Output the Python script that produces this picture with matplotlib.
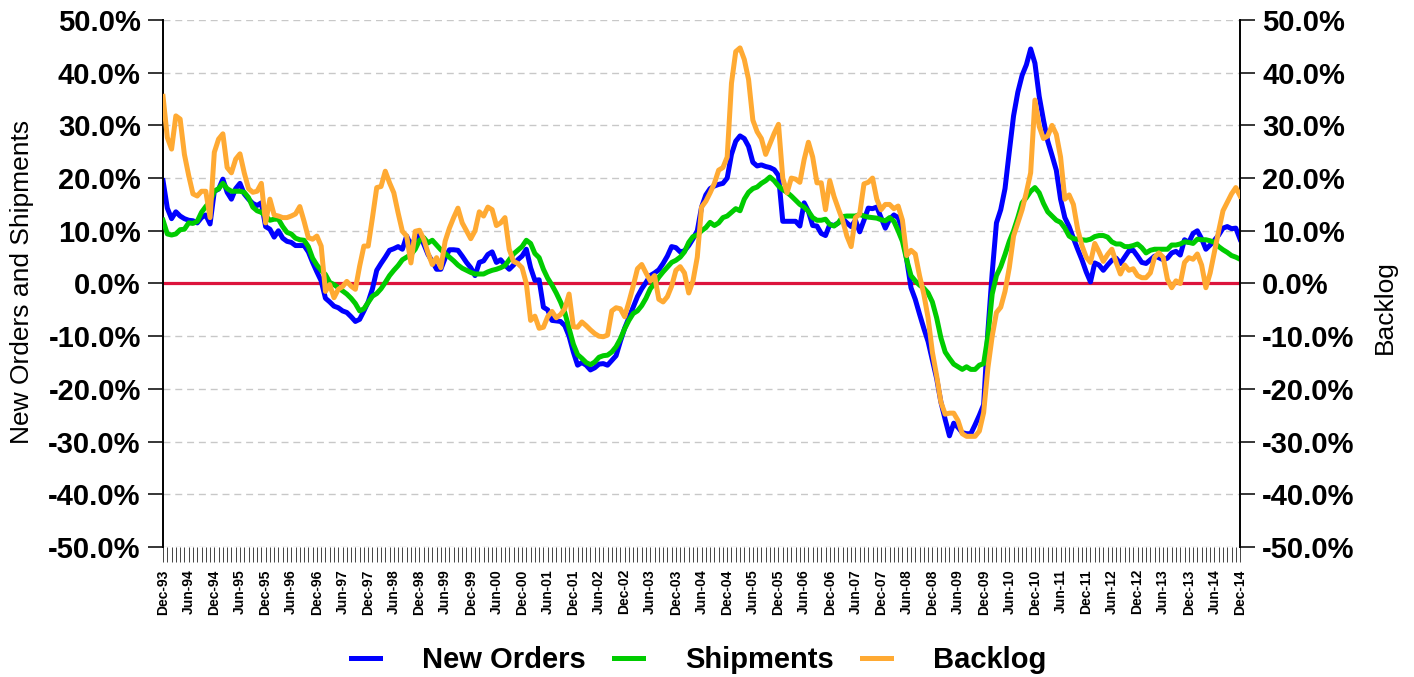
import numpy as np
import pandas as pd
import matplotlib
matplotlib.use("Agg")
import matplotlib.pyplot as plt

plt.rcParams['font.family'] = ['Liberation Sans', 'DejaVu Sans']

months = pd.date_range('1993-12-01', '2014-12-01', freq='MS')
month_labels = [d.strftime('%b-%y') for d in months]

# monthly values, Dec-93 .. Dec-14 (percent)
new_orders = [
    19.5, 14.3, 12.3, 13.6, 12.8, 12.3, 12.0, 11.9, 11.5, 12.5, 13.0, 11.3,
    17.5, 17.9, 19.8, 17.3, 16.0, 18.0, 19.0, 17.0, 16.0, 15.2, 14.8, 15.3,
    10.8, 10.3, 8.8, 10.0, 8.6, 8.0, 7.8, 7.2, 7.2, 7.2, 6.0, 4.0,
    2.2, 0.5, -2.8, -3.5, -4.3, -4.6, -5.2, -5.5, -6.3, -7.2, -6.8, -5.2,
    -3.5, -1.0, 2.5, 3.8, 5.0, 6.3, 6.6, 7.0, 6.5, 9.0, 7.3, 8.5,
    9.2, 7.5, 5.5, 4.2, 2.7, 2.7, 4.8, 6.4, 6.4, 6.3, 5.2, 4.0,
    3.0, 1.5, 4.0, 4.3, 5.5, 6.0, 4.0, 4.5, 3.5, 2.7, 3.5, 4.5,
    5.2, 6.5, 3.0, 0.6, 0.7, -4.5, -5.0, -7.0, -7.1, -7.2, -8.0, -10.0,
    -13.0, -15.5, -15.0, -15.5, -16.4, -16.0, -15.3, -15.2, -15.5, -14.6, -13.7, -11.0,
    -8.5, -6.5, -4.5, -2.5, -1.0, 0.2, 1.5, 2.0, 2.6, 3.8, 5.2, 7.0,
    6.8, 6.0, 6.2, 7.2, 8.5, 10.0, 14.5, 16.8, 18.0, 18.5, 18.8, 19.0,
    20.0, 24.5, 27.0, 28.0, 27.5, 26.0, 23.0, 22.3, 22.5, 22.2, 22.0, 21.6,
    20.5, 11.8, 11.8, 11.8, 11.8, 10.9, 15.3, 13.7, 11.0, 10.9, 9.5, 9.1,
    11.2, 11.0, 11.5, 12.3, 11.5, 10.8, 12.0, 9.8, 12.0, 14.3, 14.2, 14.5,
    12.5, 10.5, 12.2, 13.0, 12.5, 10.0, 4.5, -0.8, -3.0, -5.8, -8.5, -11.0,
    -14.5, -18.0, -22.5, -25.8, -28.9, -26.5, -27.3, -28.3, -28.5, -28.5, -26.8, -25.0,
    -23.0, -9.0, 2.0, 11.5, 14.0, 18.0, 25.0, 31.8, 36.3, 39.5, 41.5, 44.5,
    41.8, 35.5, 31.0, 27.0, 24.3, 21.5, 16.0, 12.5, 10.8, 8.6, 6.5, 4.5,
    2.2, 0.3, 3.9, 3.5, 2.5, 3.5, 4.4, 4.8, 3.8, 5.0, 6.2, 6.3,
    5.2, 4.0, 3.8, 4.5, 5.2, 4.9, 4.5, 4.8, 5.8, 6.1, 5.4, 8.3,
    7.8, 9.5, 10.0, 8.5, 6.5, 7.3, 8.2, 9.2, 10.5, 10.8, 10.4, 10.5, 8.4,
]

shipments = [
    12.0, 9.4, 9.2, 9.4, 10.2, 10.3, 11.5, 11.4, 11.8, 13.5, 14.6, 15.5,
    17.5, 18.0, 19.0, 18.0, 17.5, 17.5, 17.5, 17.3, 16.3, 14.5, 13.8, 13.5,
    12.8, 12.0, 12.2, 12.2, 10.8, 9.7, 9.4, 8.6, 8.3, 8.2, 7.0, 4.8,
    3.5, 2.5, 1.7, 0.2, -0.2, -0.8, -1.4, -2.0, -2.8, -3.8, -5.2, -4.8,
    -3.6, -2.4, -1.9, -1.0, 0.2, 1.5, 2.5, 3.4, 4.5, 5.0, 5.5, 6.5,
    8.2, 8.7, 7.7, 8.2, 7.3, 6.4, 5.7, 5.0, 4.3, 3.5, 2.9, 2.5,
    2.1, 1.8, 1.8, 1.8, 2.2, 2.5, 2.7, 3.0, 3.4, 4.5, 5.6, 6.3,
    7.0, 8.2, 7.6, 5.7, 4.9, 2.7, 1.0, -0.3, -1.8, -3.5, -5.5, -8.5,
    -11.5, -13.5, -14.2, -15.0, -15.4, -14.9, -14.0, -13.7, -13.6, -13.0, -12.0, -10.5,
    -8.6, -7.0, -5.7, -5.2, -4.2, -2.8, -1.0, 0.0, 1.2, 2.2, 3.1, 4.0,
    4.4, 5.0, 6.0, 7.8, 8.9, 9.2, 10.0, 10.6, 11.6, 11.0, 11.5, 12.5,
    12.8, 13.5, 14.2, 13.8, 16.0, 17.3, 18.0, 18.3, 19.0, 19.5, 20.2, 19.5,
    18.5, 17.8, 17.3, 16.6, 15.8, 15.0, 14.5, 13.7, 12.5, 12.0, 12.0, 12.2,
    11.2, 10.9, 11.5, 12.7, 12.8, 12.8, 12.8, 13.1, 12.8, 12.6, 12.5, 12.4,
    12.1, 11.9, 12.5, 11.8, 10.0, 8.0, 4.5, 1.5, 0.5, -0.3, -0.9, -1.8,
    -3.5, -6.5, -10.3, -13.0, -14.2, -15.3, -15.8, -16.3, -15.8, -16.3, -16.3, -15.5,
    -15.2, -10.0, -2.0, 1.5, 3.2, 5.5, 8.0, 10.0, 12.5, 15.3, 16.3, 17.5,
    18.2, 17.2, 15.2, 13.6, 12.8, 12.0, 11.6, 10.5, 9.0, 8.5, 8.4, 8.3,
    8.2, 8.4, 8.9, 9.1, 9.1, 8.8, 7.9, 7.5, 7.5, 7.0, 7.0, 7.2,
    7.5, 6.8, 5.8, 6.3, 6.5, 6.5, 6.5, 6.5, 7.3, 7.3, 7.5, 7.9,
    7.8, 7.6, 8.4, 8.3, 8.3, 8.1, 7.8, 7.0, 6.4, 5.9, 5.3, 5.0, 4.6,
]

backlog = [
    35.5, 27.7, 25.5, 31.8, 31.2, 24.5, 20.5, 17.0, 16.6, 17.5, 17.5, 12.5,
    24.9, 27.4, 28.4, 22.0, 21.0, 23.6, 24.6, 21.0, 18.0, 17.3, 17.5, 19.0,
    11.5, 16.0, 13.0, 12.8, 12.5, 12.5, 12.8, 13.2, 14.6, 11.8, 8.7, 8.4,
    9.0, 7.1, -1.5, -0.2, -2.7, -1.1, -0.6, 0.4, -0.5, -1.1, 3.3, 7.1,
    7.1, 12.5, 18.2, 18.4, 21.3, 19.1, 17.2, 13.4, 9.9, 9.0, 3.9, 9.9,
    10.1, 8.4, 5.8, 3.6, 4.9, 3.0, 8.0, 10.5, 12.5, 14.3, 11.5, 10.0,
    8.5, 10.0, 13.6, 12.8, 14.5, 14.0, 11.0, 11.5, 12.5, 6.5, 4.2, 3.8,
    3.0, 0.0, -7.0, -6.2, -8.5, -8.3, -6.3, -5.3, -6.5, -5.9, -4.8, -2.0,
    -8.2, -8.3, -7.3, -8.0, -8.8, -9.5, -10.0, -10.1, -9.8, -5.2, -4.6, -4.8,
    -6.3, -3.5, -0.5, 2.8, 3.6, 2.0, 0.5, 1.5, -3.0, -3.5, -2.5, -0.5,
    2.5, 3.2, 2.0, -1.8, 0.5, 5.0, 14.5, 15.6, 17.2, 19.0, 21.5, 22.0,
    24.0, 38.0, 44.0, 44.7, 42.5, 38.7, 31.0, 28.8, 27.5, 24.5, 26.5, 28.5,
    30.2, 20.0, 17.2, 20.0, 19.8, 19.2, 23.5, 26.8, 24.0, 19.1, 19.1, 14.0,
    19.5, 16.5, 14.2, 12.0, 9.0, 7.0, 12.5, 13.2, 18.9, 19.2, 20.0, 16.0,
    14.0, 15.0, 15.0, 14.2, 14.7, 12.0, 5.3, 6.3, 5.6, 1.5, -2.0, -6.5,
    -13.0, -17.5, -22.5, -24.8, -24.6, -24.6, -26.0, -28.5, -29.0, -29.0, -29.0, -28.0,
    -24.5, -16.0, -10.0, -5.5, -4.5, -1.5, 3.0, 9.0, 11.5, 14.0, 17.3, 21.0,
    34.8, 29.8, 27.5, 28.0, 30.0, 28.3, 24.0, 16.0, 16.8, 15.0, 10.3, 7.2,
    5.0, 4.0, 7.6, 6.0, 4.2, 5.5, 6.5, 4.0, 1.8, 3.5, 2.5, 2.8,
    1.5, 1.1, 1.1, 2.0, 5.0, 5.8, 5.0, 0.8, -0.8, 0.5, 0.0, 4.0,
    4.9, 4.6, 5.6, 3.5, -0.8, 2.0, 6.0, 10.0, 13.8, 15.4, 17.0, 18.2, 16.6,
]

y_ticks = list(range(-50, 51, 10))
y_tick_labels = [f'{v:.1f}%' for v in y_ticks]

x = np.arange(len(months))

fig = plt.figure(figsize=(14.14, 6.77), dpi=100)
ax = fig.add_axes([0.1153, 0.192, 0.7617, 0.7785])
ax2 = ax.twinx()

ax.set_axisbelow(True)
ax.yaxis.grid(True, color='#C8C8C8', linestyle=(0, (5, 3.5)), linewidth=1.0)
ax.axhline(0, color='#DC143C', linewidth=2.3, zorder=1.5)

l1, = ax.plot(x, new_orders, color='#0000FF', linewidth=3.6, label='New Orders', zorder=2)
l2, = ax.plot(x, shipments, color='#00CC00', linewidth=3.6, label='Shipments', zorder=3)
l3, = ax2.plot(x, backlog, color='#FFAA33', linewidth=3.6, label='Backlog', zorder=3)

for a in (ax, ax2):
    a.set_xlim(0, len(x) - 1)
    a.set_ylim(-50, 50)
    a.set_yticks(y_ticks)
    a.set_yticklabels(y_tick_labels, fontsize=21, fontweight='bold')
    a.tick_params(axis='y', direction='out', length=11, width=1.1, pad=5)
    a.spines['top'].set_visible(False)
    a.spines['bottom'].set_visible(False)

ax.spines['right'].set_visible(False)
ax2.spines['left'].set_visible(False)
ax.spines['left'].set_linewidth(1.4)
ax2.spines['right'].set_linewidth(1.4)

ax.set_xticks(x[::6])
ax.set_xticklabels(month_labels[::6], rotation=90, fontsize=10, fontweight='bold')
ax.set_xticks(x, minor=True)
ax.tick_params(axis='x', which='both', direction='out', length=11, width=0.7,
               color='#444444', pad=5)

fig.text(0.0156, 0.583, 'New Orders and Shipments', rotation=90,
         ha='center', va='center', fontsize=19)
fig.text(0.9795, 0.5465, 'Backlog', rotation=90, ha='center', va='center', fontsize=19)

fig.legend([l1, l2, l3], ['New Orders', 'Shipments', 'Backlog'],
           loc='lower center', bbox_to_anchor=(0.494, -0.035), ncol=3, frameon=False,
           prop={'weight': 'bold', 'size': 21}, handlelength=1.0,
           handletextpad=1.45, columnspacing=0.95)

fig.savefig('out.png', dpi=100)
